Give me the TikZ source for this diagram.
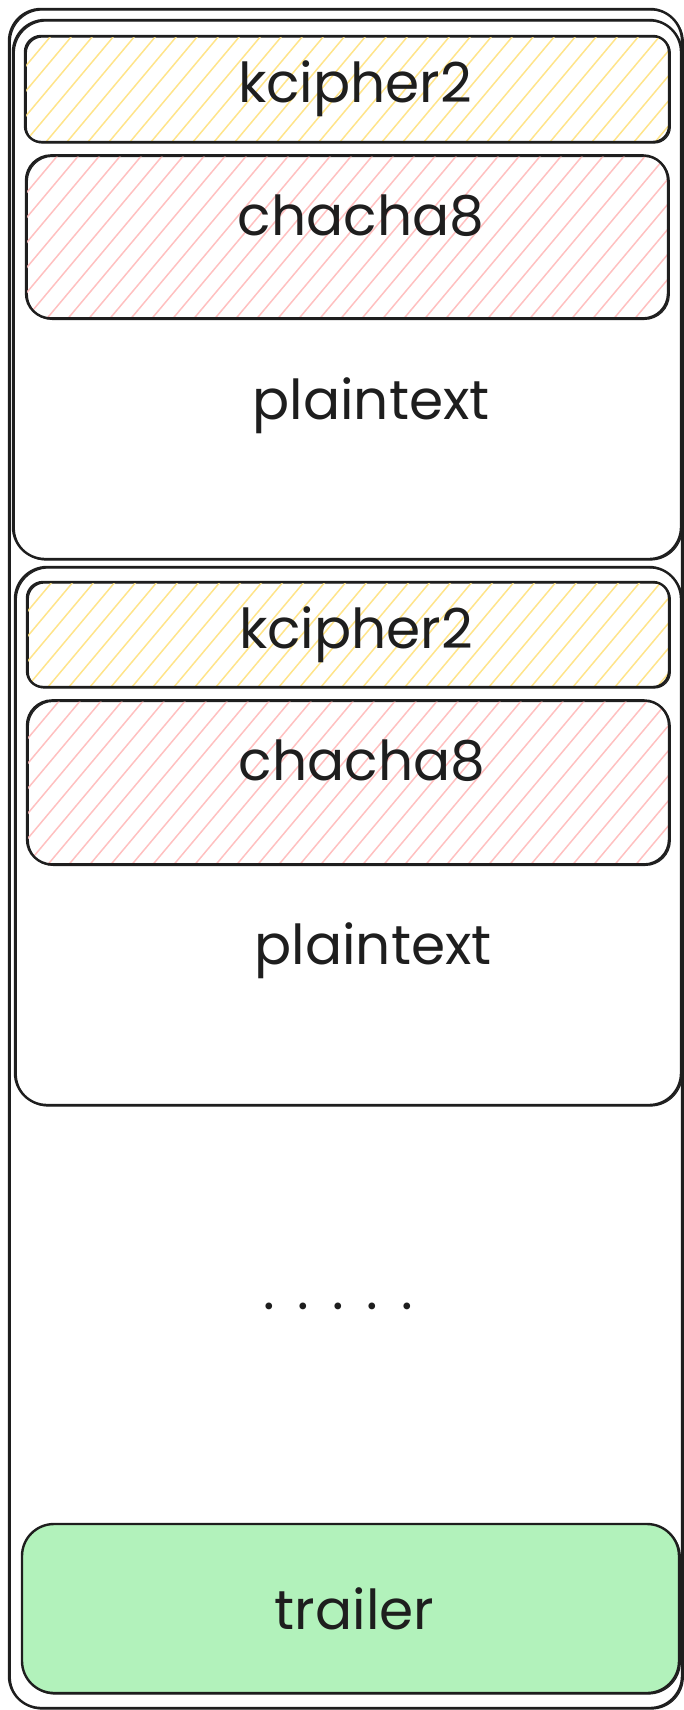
\documentclass[tikz,border=0pt]{standalone}
\usepackage{fontspec}
\setmainfont{Poppins}
\usetikzlibrary{positioning}

\definecolor{inkline}{HTML}{1E1E1E}
\definecolor{hatchyellow}{HTML}{FFE48A}
\definecolor{hatchred}{HTML}{FFC0C0}
\definecolor{trailergreen}{HTML}{B2F2BB}

\begin{document}
\begin{tikzpicture}[
    x=1pt, y=-1pt,
    every node/.style={align=center, text=inkline, font=\fontsize{55}{60}\selectfont},
    box/.style={
        draw=inkline,
        line width=2.4pt,
        rounded corners=#1,
        inner sep=0pt,
        preaction={draw=inkline, line width=1.2pt,
                   transform canvas={shift={(1.3pt,-1pt)}}}
    },
    box/.default=30pt,
    hatch/.style={
        path picture={
            \foreach \i in {-11,...,32}
                \draw[#1, line width=1.5pt]
                    ([xshift=\i*21pt]path picture bounding box.south west) -- ++(50:260pt);
        }
    },
    lift/.style={text depth=44pt}
]

\useasboundingbox (0,0) rectangle (683,1710);

% outer frame
\node[box=32pt, minimum width=673pt, minimum height=1699pt] (frame) at (345.5,858.5) {};

% first block
\node[box=32pt, minimum width=668pt, minimum height=539pt] (block1) at (347,289.5) {};
\node[box=16pt, hatch=hatchyellow, minimum width=644pt, minimum height=106pt,
      below=16pt of block1.north] (kcipher1) {\hspace*{16pt}kcipher2};
\node[box=25pt, hatch=hatchred, lift, minimum width=642pt, minimum height=163pt,
      below=11pt of kcipher1] (chacha1) {\hspace*{28pt}chacha8};
\node (plain1) at (371,406) {plaintext};

% second block
\node[box=32pt, minimum width=666pt, minimum height=538pt] (block2) at (348,836) {};
\node[box=16pt, hatch=hatchyellow, minimum width=642pt, minimum height=105pt,
      below=15pt of block2.north] (kcipher2) {\hspace*{16pt}kcipher2};
\node[box=25pt, hatch=hatchred, lift, minimum width=642pt, minimum height=164pt,
      below=11pt of kcipher2] (chacha2) {\hspace*{28pt}chacha8};
\node (plain2) at (373,951) {plaintext};

% more blocks
\node (more) at (338,1306) {.\hspace{23pt}.\hspace{23pt}.\hspace{23pt}.\hspace{23pt}.};

% trailer
\node[box=32pt, fill=trailergreen, minimum width=657pt, minimum height=169pt]
      (trailer) at (350.5,1608.5) {\hspace*{8pt}trailer};

\end{tikzpicture}
\end{document}
